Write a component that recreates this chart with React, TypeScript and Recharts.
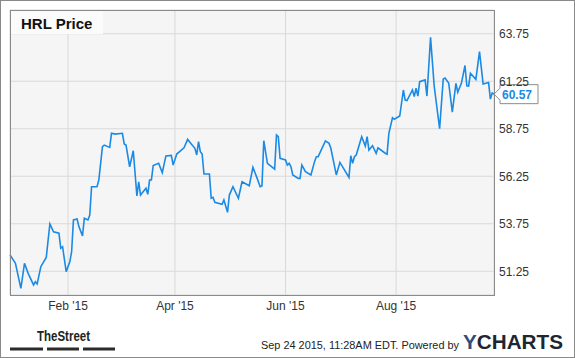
import { CartesianGrid, Line, LineChart, ReferenceDot, XAxis, YAxis } from "recharts"

// daily closes
const dates = [
  "2014-12-31", "2015-01-03", "2015-01-06", "2015-01-08", "2015-01-10", "2015-01-13", "2015-01-14", "2015-01-15",
  "2015-01-17", "2015-01-20", "2015-01-22", "2015-01-24", "2015-01-27", "2015-01-28", "2015-01-29", "2015-01-31",
  "2015-02-02", "2015-02-03", "2015-02-04", "2015-02-06", "2015-02-07", "2015-02-09", "2015-02-10", "2015-02-12",
  "2015-02-13", "2015-02-14", "2015-02-17", "2015-02-18", "2015-02-20", "2015-02-21", "2015-02-24", "2015-02-25",
  "2015-02-27", "2015-03-03", "2015-03-04", "2015-03-05", "2015-03-07", "2015-03-09", "2015-03-11", "2015-03-12",
  "2015-03-13", "2015-03-16", "2015-03-17", "2015-03-18", "2015-03-19", "2015-03-20", "2015-03-23", "2015-03-25",
  "2015-03-27", "2015-03-30", "2015-03-31", "2015-04-02", "2015-04-06", "2015-04-08", "2015-04-10", "2015-04-12",
  "2015-04-13", "2015-04-14", "2015-04-15", "2015-04-16", "2015-04-17", "2015-04-20", "2015-04-21", "2015-04-22",
  "2015-04-23", "2015-04-27", "2015-04-28", "2015-04-30", "2015-05-01", "2015-05-03", "2015-05-06", "2015-05-08",
  "2015-05-12", "2015-05-14", "2015-05-16", "2015-05-18", "2015-05-19", "2015-05-20", "2015-05-22", "2015-05-26",
  "2015-05-27", "2015-05-28", "2015-05-29", "2015-06-01", "2015-06-02", "2015-06-03", "2015-06-04", "2015-06-05",
  "2015-06-08", "2015-06-09", "2015-06-10", "2015-06-12", "2015-06-15", "2015-06-17", "2015-06-18", "2015-06-19",
  "2015-06-23", "2015-06-25", "2015-06-26", "2015-06-29", "2015-07-01", "2015-07-06", "2015-07-07", "2015-07-08",
  "2015-07-09", "2015-07-10", "2015-07-13", "2015-07-15", "2015-07-16", "2015-07-17", "2015-07-19", "2015-07-21",
  "2015-07-22", "2015-07-26", "2015-07-27", "2015-07-28", "2015-07-30", "2015-07-31", "2015-08-03", "2015-08-05",
  "2015-08-06", "2015-08-07", "2015-08-10", "2015-08-11", "2015-08-12", "2015-08-13", "2015-08-14", "2015-08-17",
  "2015-08-18", "2015-08-20", "2015-08-22", "2015-08-25", "2015-08-27", "2015-08-28", "2015-08-30", "2015-09-01",
  "2015-09-03", "2015-09-04", "2015-09-06", "2015-09-08", "2015-09-09", "2015-09-10", "2015-09-11", "2015-09-14",
  "2015-09-16", "2015-09-18", "2015-09-21", "2015-09-22", "2015-09-23", "2015-09-24",
]

const prices = [
  52.11, 51.67, 50.35, 51.67, 51.14, 50.53, 50.7, 50.58,
  51.49, 51.98, 53.74, 53.33, 53.25, 52.46, 52.54, 51.23,
  51.75, 52.28, 53.95, 54.0, 53.6, 53.11, 54.04, 53.95,
  54.21, 55.7, 55.7, 56.05, 57.81, 57.89, 57.77, 58.51,
  58.47, 58.51, 57.95, 57.89, 56.75, 57.59, 55.21, 55.96,
  55.26, 55.62, 55.3, 56.05, 56.05, 56.81, 56.93, 56.44,
  57.32, 57.35, 56.84, 57.42, 57.75, 58.19, 57.95, 57.72,
  57.37, 58.07, 57.54, 57.42, 56.37, 56.37, 55.09, 55.14,
  54.88, 54.77, 55.0, 54.35, 55.26, 55.7, 55.09, 55.96,
  55.75, 56.72, 56.23, 55.7, 55.74, 58.12, 56.93, 56.62,
  58.42, 58.33, 57.19, 57.11, 56.84, 56.93, 56.75, 56.32,
  56.14, 56.14, 56.84, 56.49, 56.32, 57.02, 57.28, 57.28,
  58.11, 57.98, 57.72, 56.32, 56.98, 56.19, 57.33, 56.93,
  57.28, 57.37, 58.33, 57.84, 58.33, 57.63, 57.86, 57.46,
  57.75, 57.46, 57.41, 58.51, 59.33, 59.25, 59.42, 60.79,
  60.26, 60.23, 60.79, 60.44, 60.88, 60.47, 61.23, 61.32,
  60.47, 63.56, 61.0, 58.75, 61.37, 61.42, 61.16, 59.63,
  61.14, 60.67, 61.14, 62.08, 61.01, 61.0, 61.67, 61.35,
  62.81, 61.11, 61.18, 60.31, 60.63, 60.57,
]

const monthTicks = ["2015-02-01", "2015-04-01", "2015-06-01", "2015-08-01"]
const monthLabels = ["Feb '15", "Apr '15", "Jun '15", "Aug '15"]
const priceTicks = [51.25, 53.75, 56.25, 58.75, 61.25, 63.75]

const FONT = "'Liberation Sans', Arial, sans-serif"
const LINE_COLOR = "#1a8ae5"

const base = Date.UTC(2015, 0, 1)
const toDay = (s: string) => {
  const [y, m, d] = s.split("-").map(Number)
  return (Date.UTC(y, m - 1, d) - base) / 86400000
}

const data = dates.map((d, i) => ({ t: toDay(d), price: prices[i] }))
const last = data[data.length - 1]
const tickDays = monthTicks.map(toDay)

// boxed tag with arrow pointing at the last value
const LastValueTag = ({ cx, cy }: any) => {
  if (cx == null || cy == null) return null
  const h = 9.5
  return (
    <g>
      <path
        d={`M${cx},${cy} L${cx + 6},${cy - 6} L${cx + 6},${cy - h} L${cx + 44},${cy - h} L${cx + 44},${cy + h} L${cx + 6},${cy + h} L${cx + 6},${cy + 6} Z`}
        fill="#fff"
        stroke="#8c8c8c"
      />
      <text x={cx + 8} y={cy + 4.5} fill={LINE_COLOR} fontWeight="bold" fontSize={12} fontFamily={FONT}>
        {last.price.toFixed(2)}
      </text>
    </g>
  )
}

export default function App() {
  return (
    <div style={{ position: "absolute", left: 0, top: 0, width: 575, height: 358, background: "#fff" }}>
      <LineChart
        width={575}
        height={358}
        data={data}
        margin={{ top: 10, right: 0, bottom: 0, left: 10 }}
        style={{ fontFamily: FONT }}
      >
        <CartesianGrid stroke="#d9d9d9" fill="#f5f5f5" />
        <XAxis
          dataKey="t"
          type="number"
          domain={[toDay("2014-12-31"), toDay("2015-09-24")]}
          ticks={tickDays}
          tickFormatter={(v: number) => monthLabels[tickDays.indexOf(v)] ?? ""}
          height={63}
          axisLine={false}
          tickLine={false}
          tickSize={0}
          tickMargin={6}
          tick={{ fontSize: 12, fill: "#333" }}
        />
        <YAxis
          orientation="right"
          domain={[50, 65]}
          ticks={priceTicks}
          tickFormatter={(v: number) => v.toFixed(2)}
          width={81}
          axisLine={false}
          tickLine={false}
          tickSize={0}
          tickMargin={5}
          tick={{ fontSize: 12, fill: "#333" }}
        />
        <Line
          dataKey="price"
          type="linear"
          stroke={LINE_COLOR}
          strokeWidth={1.6}
          dot={false}
          isAnimationActive={false}
        />
        <ReferenceDot x={last.t} y={last.price} ifOverflow="visible" shape={<LastValueTag />} />
      </LineChart>
      <svg
        width={575}
        height={358}
        style={{ position: "absolute", left: 0, top: 0, pointerEvents: "none", fontFamily: FONT }}
      >
        <rect x={0.5} y={0.5} width={574} height={357} fill="none" stroke="#8a8a8a" />
        <rect x={11} y={11} width={92} height={23} fill="#fbfbfb" />
        <rect x={10.5} y={10.5} width={484} height={285} fill="none" stroke="#8a8a8a" />
        <text x={21} y={29} fontSize={15} fontWeight="bold" fill="#111">HRL Price</text>

        <text
          x={37}
          y={341.3}
          fontSize={15}
          fontWeight="bold"
          fill="#222"
          textLength={53}
          lengthAdjust="spacingAndGlyphs"
          style={{ fontFamily: "'Liberation Sans Narrow', 'Liberation Sans', Arial, sans-serif" }}
        >
          TheStreet
        </text>
        <rect x={10} y={347.5} width={33} height={3} fill="#2b2b2b" />
        <rect x={47} y={347.5} width={32} height={3} fill="#2b2b2b" />
        <rect x={83} y={347.5} width={32} height={3} fill="#2b2b2b" />

        <text x={261} y={349} fontSize={11} fill="#222" textLength={198} lengthAdjust="spacingAndGlyphs">
          Sep 24 2015, 11:28AM EDT. Powered by
        </text>
        <text x={463} y={348.5} fontSize={20} fontWeight="bold" textLength={100} lengthAdjust="spacingAndGlyphs">
          <tspan fill="#2a4f7c">Y</tspan>
          <tspan fill="#1d2733">CHARTS</tspan>
        </text>
      </svg>
    </div>
  )
}
